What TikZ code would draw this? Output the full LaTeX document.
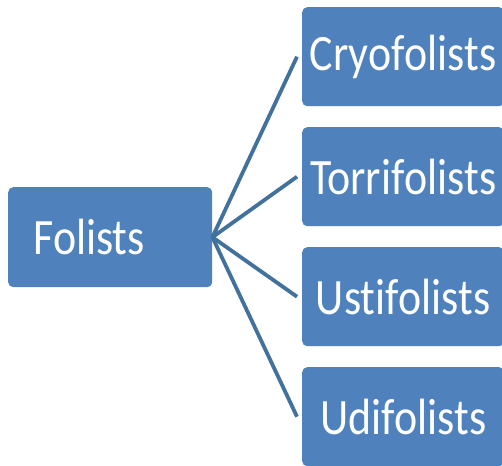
\documentclass[tikz,border=0pt]{standalone}
\usepackage{fontspec}
\setmainfont{Carlito}[Ligatures={NoCommon,NoContextual}]
\usepackage{graphicx}
\definecolor{boxblue}{HTML}{4F81BD}
\definecolor{lineblue}{HTML}{41719C}
\tikzset{
  sbox/.style={fill=boxblue, draw=none, rounded corners=5pt, anchor=north west,
    inner sep=0pt, text=white, font=\fontsize{51}{60}\selectfont},
  link/.style={draw=lineblue, line width=3.8pt}
}
\newcommand{\sq}[1]{\scalebox{0.86}[1]{#1}}
\begin{document}
\begin{tikzpicture}[x=1pt,y=-1pt]
\useasboundingbox (0,0) rectangle (502,465);
\node[sbox, minimum width=204pt, minimum height=100pt] (fol) at (8,187) {\hspace*{-42pt}\sq{Folists}};
\node[sbox, minimum width=202pt, minimum height=99pt] (cryo) at (302,7) {\sq{Cryof\kern0pt olists}};
\node[sbox, minimum width=202pt, minimum height=99pt] (torr) at (302,127) {\sq{Torrif\kern0pt olists}};
\node[sbox, minimum width=202pt, minimum height=99pt] (usti) at (302,247) {\sq{Ust\kern0pt if\kern0pt olists}};
\node[sbox, minimum width=202pt, minimum height=99pt] (udi) at (302,367) {\sq{Udif\kern0pt olists}};
\foreach \n in {cryo,torr,usti,udi}{
  \draw[link] (fol.east) -- ([xshift=-5pt]\n.west);
}
\end{tikzpicture}
\end{document}
